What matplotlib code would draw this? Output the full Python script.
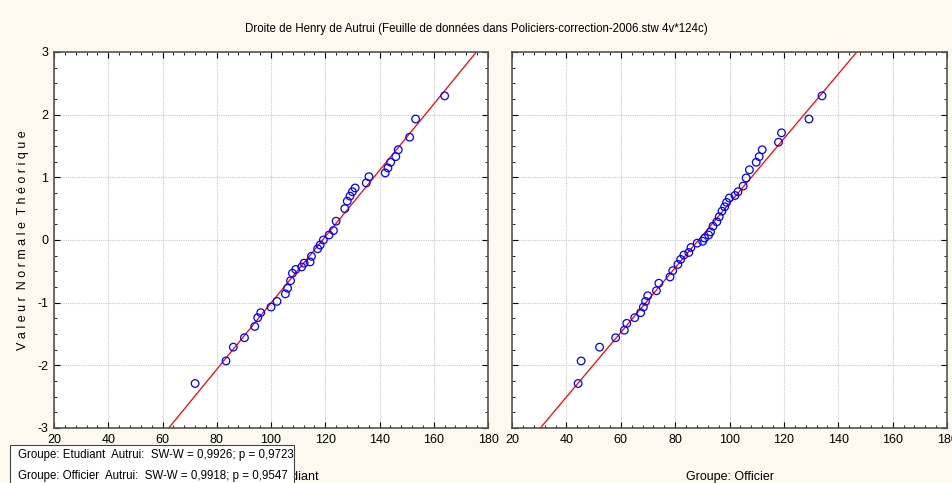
import matplotlib
matplotlib.use("Agg")
import matplotlib.pyplot as plt
from matplotlib.ticker import MultipleLocator
from matplotlib.patches import Rectangle

# Donnees
etudiant_x = [72.0, 83.4, 86.1, 90.2, 94.0, 95.1, 96.2, 100.0, 102.2, 105.3, 106.1, 107.2, 107.9,
              109.1, 111.3, 112.2, 114.4, 114.9, 117.2, 118.1, 119.3, 121.4, 123.0, 124.0, 127.2,
              128.1, 129.1, 130.0, 131.0, 135.1, 136.1, 142.1, 143.1, 144.1, 146.0, 146.9, 151.1,
              153.3, 164.0]
etudiant_z = [-2.29, -1.93, -1.71, -1.56, -1.38, -1.24, -1.16, -1.07, -0.98, -0.86, -0.77, -0.65, -0.53,
              -0.47, -0.43, -0.37, -0.35, -0.26, -0.14, -0.08, 0.0, 0.08, 0.15, 0.30, 0.50,
              0.62, 0.70, 0.77, 0.83, 0.91, 1.01, 1.07, 1.15, 1.24, 1.33, 1.44, 1.64,
              1.93, 2.30]
officier_x = [44.3, 45.4, 52.2, 58.1, 61.3, 62.2, 65.1, 67.3, 68.3, 69.1, 69.9, 73.1, 74.0, 78.1,
              79.1, 81.0, 82.0, 83.2, 85.0, 85.8, 88.1, 90.1, 90.8, 92.3, 93.0, 93.9, 95.3, 96.2,
              97.2, 98.2, 98.9, 99.9, 102.0, 103.1, 105.0, 106.1, 107.3, 109.8, 110.9, 112.0,
              118.0, 119.1, 129.2, 134.0]
officier_z = [-2.29, -1.93, -1.71, -1.56, -1.44, -1.33, -1.24, -1.16, -1.07, -0.98, -0.89, -0.81, -0.69, -0.59,
              -0.49, -0.39, -0.31, -0.24, -0.20, -0.12, -0.05, -0.02, 0.03, 0.08, 0.13, 0.22, 0.29, 0.37,
              0.46, 0.53, 0.60, 0.67, 0.71, 0.77, 0.86, 0.99, 1.12, 1.24, 1.33, 1.44,
              1.56, 1.71, 1.93, 2.30]
# droite theorique: moyenne et ecart-type
etudiant_mean, etudiant_sd = 119.0, 18.9
officier_mean, officier_sd = 88.6, 19.4

groupes = ["Groupe: Etudiant", "Groupe: Officier"]
legende = ["Groupe: Etudiant  Autrui:  SW-W = 0,9926; p = 0,9723",
           "Groupe: Officier  Autrui:  SW-W = 0,9918; p = 0,9547"]

bg = "#fdf9ee"
plt.rcParams["font.family"] = ["Liberation Sans", "DejaVu Sans"]
plt.rcParams["axes.unicode_minus"] = False

fig = plt.figure(figsize=(9.53, 4.83), dpi=100, facecolor=bg)
ax1 = fig.add_axes([0.0567, 0.1139, 0.4554, 0.7785])
ax2 = fig.add_axes([0.5373, 0.1139, 0.4565, 0.7785])

data = [(ax1, etudiant_x, etudiant_z, etudiant_mean, etudiant_sd),
        (ax2, officier_x, officier_z, officier_mean, officier_sd)]

for i, (ax, xs, zs, m, s) in enumerate(data):
    ax.set_facecolor("white")
    ax.plot([m - 3 * s, m + 3 * s], [-3, 3], color="red", lw=0.9, zorder=2)
    ax.scatter(xs, zs, s=30, facecolors="none", edgecolors="blue", linewidths=0.9, zorder=3)
    ax.set_xlim(20, 180)
    ax.set_ylim(-3, 3)
    ax.xaxis.set_major_locator(MultipleLocator(20))
    ax.xaxis.set_minor_locator(MultipleLocator(4))
    ax.yaxis.set_major_locator(MultipleLocator(1))
    ax.yaxis.set_minor_locator(MultipleLocator(0.25))
    ax.tick_params(which="both", direction="in", top=True, right=True, color="black",
                   labelsize=9, pad=4)
    ax.tick_params(which="major", length=4)
    ax.tick_params(which="minor", length=2.5)
    ax.grid(True, which="major", color="#c8c8c8", ls=(0, (1, 1)), lw=0.8)
    for sp in ax.spines.values():
        sp.set_color("#555555")
        sp.set_linewidth(1.2)
    ax.set_xlabel(groupes[i], fontsize=9, labelpad=18)
    if i == 1:
        ax.tick_params(labelleft=False)

ax1.set_ylabel("V a l e u r  N o r m a l e  T h é o r i q u e", fontsize=9, labelpad=6)

fig.text(0.5, 0.94, "Droite de Henry de Autrui (Feuille de données dans Policiers-correction-2006.stw 4v*124c)",
         ha="center", va="center", fontsize=8.3)

# encadre des statistiques
fig.patches.append(Rectangle((0.011, -0.02), 0.297, 0.099, transform=fig.transFigure,
                             facecolor="white", edgecolor="#444444", lw=0.8, zorder=5))
fig.text(0.019, 0.058, legende[0], fontsize=8.3, va="center", zorder=6)
fig.text(0.019, 0.014, legende[1], fontsize=8.3, va="center", zorder=6)

fig.savefig("out.png", dpi=100, facecolor=bg)
